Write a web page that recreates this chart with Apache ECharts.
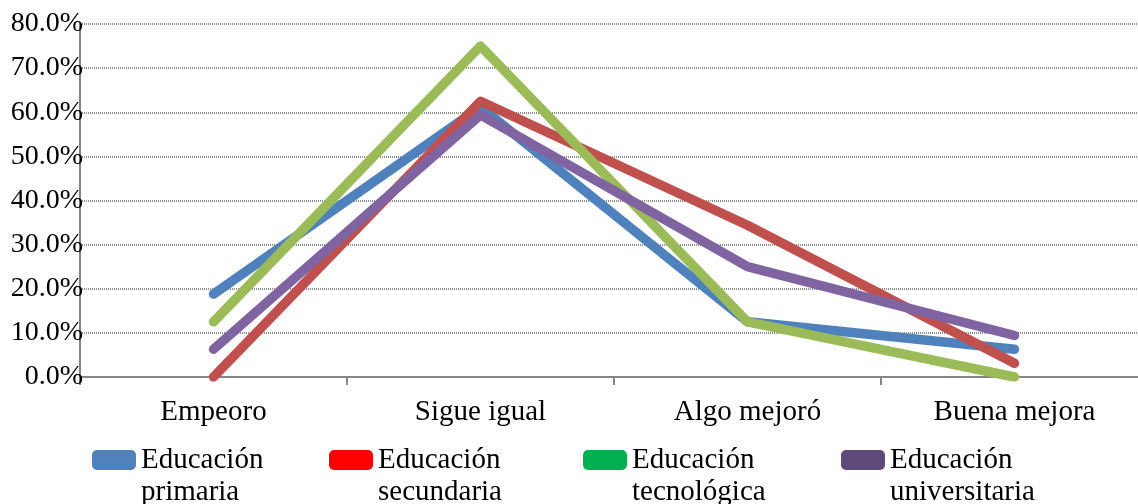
<!DOCTYPE html>
<html>
<head>
<meta charset="utf-8">
<script src="https://cdn.jsdelivr.net/npm/echarts@6/dist/echarts.min.js"></script>
<style>
  html, body { margin: 0; padding: 0; background: #fff; }
  #chart { width: 1138px; height: 504px; }
</style>
</head>
<body>
<div id="chart"></div>
<script>
// Categories and per-series percentages
const categories = ['Empeoro', 'Sigue igual', 'Algo mejoró', 'Buena mejora'];
const seriesNames = ['Educación primaria', 'Educación secundaria', 'Educación tecnológica', 'Educación universitaria'];
const primaria = [18.8, 61.2, 12.5, 6.3];
const secundaria = [0.0, 62.5, 34.4, 3.1];
const tecnologica = [12.5, 75.0, 12.5, 0.0];
const universitaria = [6.3, 59.4, 25.0, 9.4];
const yTicks = [0, 10, 20, 30, 40, 50, 60, 70, 80];

const lineColors = ['#4F81BD', '#C0504D', '#9BBB59', '#8064A2'];
const legendColors = ['#4F81BD', '#FF0000', '#00B050', '#604A7B'];
const legendLeft = [92, 329, 583, 841];
const values = [primaria, secundaria, tecnologica, universitaria];

const FONT = '"Liberation Serif", "Times New Roman", serif';

const chart = echarts.init(document.getElementById('chart'), null, { renderer: 'canvas' });

// One legend per series so each entry sits at its own x position.
// A leading blank line keeps the first text line level with the swatch.
const legends = seriesNames.map((name, i) => ({
  data: [{ name: name, itemStyle: { color: legendColors[i] } }],
  left: legendLeft[i],
  top: 412,
  padding: 0,
  itemWidth: 44,
  itemHeight: 20,
  itemGap: 6,
  icon: 'roundRect',
  formatter: n => '\n' + n.replace(' ', '\n'),
  textStyle: {
    fontFamily: FONT,
    fontSize: 29,
    color: '#000',
    lineHeight: 32
  }
}));

chart.setOption({
  animation: false,
  backgroundColor: '#fff',
  legend: legends,
  // The plot area runs a little past the right edge of the canvas.
  grid: { left: 80, width: 1068, top: 24, bottom: 127, containLabel: false, outerBoundsMode: 'none' },
  xAxis: {
    type: 'category',
    data: categories,
    boundaryGap: true,
    axisLine: { lineStyle: { color: '#868686', width: 2 } },
    axisTick: { show: true, length: 8, lineStyle: { color: '#868686', width: 2 } },
    axisLabel: { fontFamily: FONT, fontSize: 29, color: '#000', margin: 21 }
  },
  yAxis: {
    type: 'value',
    min: yTicks[0],
    max: yTicks[yTicks.length - 1],
    interval: 10,
    axisLine: { show: true, lineStyle: { color: '#868686', width: 2 } },
    axisTick: { show: false },
    splitLine: { show: true, lineStyle: { color: '#8f8f8f', width: 2, type: [1, 1] } },
    axisLabel: {
      fontFamily: FONT, fontSize: 28, color: '#000', margin: -3,
      formatter: v => v.toFixed(1) + '%'
    }
  },
  series: seriesNames.map((name, i) => ({
    name: name,
    type: 'line',
    data: values[i],
    showSymbol: false,
    symbol: 'none',
    lineStyle: { color: lineColors[i], width: 9.5, cap: 'round', join: 'round' },
    itemStyle: { color: lineColors[i] },
    z: 2 + i
  }))
});
</script>
</body>
</html>
